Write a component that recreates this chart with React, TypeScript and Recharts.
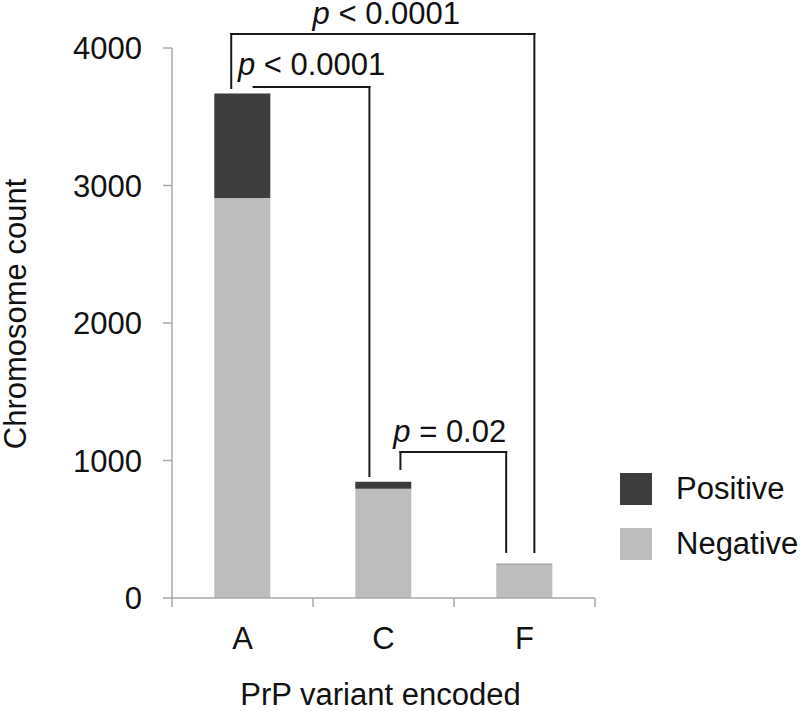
import { BarChart, Bar, XAxis, YAxis, ReferenceLine, ReferenceDot, Legend, Label } from 'recharts';

const variants = ['A', 'C', 'F'];
const negative = [2910, 795, 245];
const positive = [760, 50, 4];
const yTicks = [0, 1000, 2000, 3000, 4000];
const bandTicks = [0, 0.5, 1, 1.5, 2, 2.5, 3];

// significance brackets, in data units (x runs 0-3 across the three bands)
const brackets = [
  { p: '< 0.0001', x1: 0.42, x2: 2.57, top: 4102, leftEnd: 3709, rightEnd: 335, textX: 1.52, textY: 4175 },
  { p: '< 0.0001', x1: 0.58, x2: 1.4, top: 3716, leftEnd: 3716, rightEnd: 887, textX: 0.99, textY: 3804 },
  { p: '= 0.02', x1: 1.62, x2: 2.37, top: 1062, leftEnd: 938, rightEnd: 335, textX: 1.97, textY: 1135 },
];

// pos = centre of each category band on the 0-3 scale
const data = variants.map((v, i) => ({ variant: v, pos: i + 0.5, Negative: negative[i], Positive: positive[i] }));

const FONT = '"Liberation Sans", Arial, sans-serif';
const AXIS = '#a8a8a8';
const INK = '#111';

const BandTick = (props: any) => {
  const { x, y, payload } = props;
  const v = payload.value;
  if (Number.isInteger(v)) {
    return <line x1={x} y1={y} x2={x} y2={y + 9} stroke={AXIS} strokeWidth={1.5} />;
  }
  return (
    <text x={x} y={y + 51} textAnchor="middle" fontSize={31} fill={INK} fontFamily={FONT}>
      {variants[Math.floor(v)]}
    </text>
  );
};

const LegendContent = (props: any) => {
  const items = [...(props.payload || [])].reverse();
  return (
    <div style={{ fontFamily: FONT }}>
      {items.map((item: any) => (
        <div key={item.value} style={{ display: 'flex', alignItems: 'center', height: 32, marginBottom: 23, whiteSpace: 'nowrap' }}>
          <div style={{ width: 32, height: 32, background: item.color }} />
          <span style={{ marginLeft: 24, fontSize: 31, color: INK }}>{item.value}</span>
        </div>
      ))}
    </div>
  );
};

export default function App() {
  return (
    <div style={{ position: 'absolute', left: 0, top: 0, background: '#fff' }}>
      <BarChart
        width={800}
        height={711}
        data={data}
        margin={{ top: 48, right: 205, bottom: 0, left: 0 }}
        barCategoryGap="30%"
        style={{ fontFamily: FONT }}
      >
        <XAxis xAxisId="cat" dataKey="variant" hide height={0} />
        <XAxis
          xAxisId="num"
          dataKey="pos"
          type="number"
          domain={[0, 3]}
          allowDataOverflow
          ticks={bandTicks}
          interval={0}
          tickSize={0}
          tickMargin={0}
          tickLine={false}
          tick={<BandTick />}
          axisLine={{ stroke: AXIS, strokeWidth: 1.5 }}
          height={113}
        >
          <Label
            content={({ viewBox }: any) => (
              <text
                x={viewBox.x + viewBox.width / 2 - 3}
                y={viewBox.y + 107}
                textAnchor="middle"
                fontSize={31}
                fill={INK}
                fontFamily={FONT}
              >
                PrP variant encoded
              </text>
            )}
          />
        </XAxis>
        <YAxis
          domain={[0, 4000]}
          ticks={yTicks}
          interval={0}
          width={172}
          tickSize={9}
          tickMargin={21}
          tickLine={{ stroke: AXIS, strokeWidth: 1.5 }}
          axisLine={{ stroke: AXIS, strokeWidth: 1.5 }}
          tick={{ fontSize: 31, fill: INK, fontFamily: FONT }}
        >
          <Label
            content={({ viewBox }: any) => {
              const cx = 26;
              const cy = viewBox.y + viewBox.height / 2 - 9;
              return (
                <text
                  x={cx}
                  y={cy}
                  transform={`rotate(-90 ${cx} ${cy})`}
                  textAnchor="middle"
                  fontSize={31}
                  fill={INK}
                  fontFamily={FONT}
                >
                  Chromosome count
                </text>
              );
            }}
          />
        </YAxis>
        <Legend
          layout="vertical"
          align="center"
          verticalAlign="middle"
          content={<LegendContent />}
          wrapperStyle={{ left: 620, top: 473, width: 180, height: 110 }}
        />
        <Bar xAxisId="cat" dataKey="Negative" stackId="s" fill="#bdbdbd" isAnimationActive={false} />
        <Bar xAxisId="cat" dataKey="Positive" stackId="s" fill="#3d3d3d" isAnimationActive={false} />
        {brackets.map((b, i) => [
          <ReferenceLine
            key={`l${i}`}
            xAxisId="num"
            segment={[{ x: b.x1, y: b.leftEnd }, { x: b.x1, y: b.top }]}
            stroke="#1a1a1a"
            strokeWidth={2}
            strokeLinecap="square"
            ifOverflow="visible"
          />,
          <ReferenceLine
            key={`t${i}`}
            xAxisId="num"
            segment={[{ x: b.x1, y: b.top }, { x: b.x2, y: b.top }]}
            stroke="#1a1a1a"
            strokeWidth={2}
            strokeLinecap="square"
            ifOverflow="visible"
          />,
          <ReferenceLine
            key={`r${i}`}
            xAxisId="num"
            segment={[{ x: b.x2, y: b.top }, { x: b.x2, y: b.rightEnd }]}
            stroke="#1a1a1a"
            strokeWidth={2}
            strokeLinecap="square"
            ifOverflow="visible"
          />,
          <ReferenceDot
            key={`p${i}`}
            xAxisId="num"
            x={b.textX}
            y={b.textY}
            r={0}
            ifOverflow="visible"
            shape={(props: any) => (
              <text x={props.cx} y={props.cy} textAnchor="middle" fontSize={31} fill={INK} fontFamily={FONT}>
                <tspan fontStyle="italic">p</tspan>
                {` ${b.p}`}
              </text>
            )}
          />,
        ])}
      </BarChart>
    </div>
  );
}
